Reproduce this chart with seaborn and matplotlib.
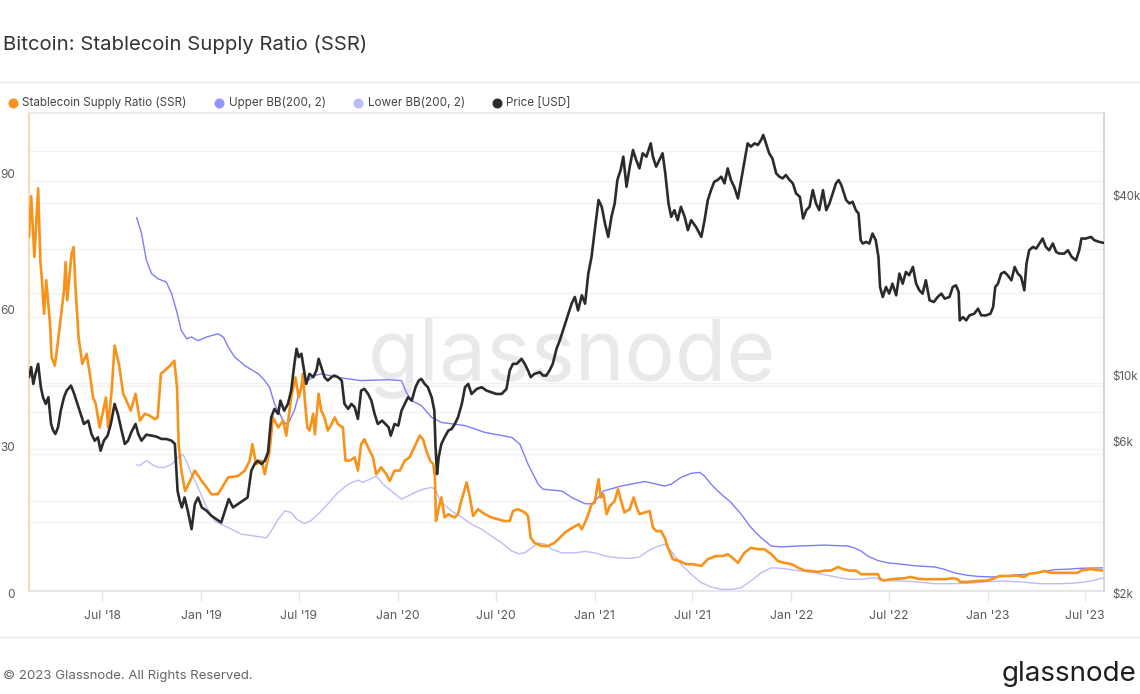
import pandas as pd
import matplotlib
matplotlib.use("Agg")
import matplotlib.pyplot as plt
import matplotlib.dates as mdates
from matplotlib.lines import Line2D
from matplotlib.ticker import NullLocator
from matplotlib.transforms import blended_transform_factory, ScaledTranslation
import seaborn as sns

# ---------------- data ----------------
ssr = [
    ("2018-02-15", 77.7), ("2018-02-19", 86.7), ("2018-02-25", 73.3), ("2018-03-04", 88.4), ("2018-03-08", 72.6),
    ("2018-03-11", 68.2), ("2018-03-15", 60.8), ("2018-03-19", 68.2), ("2018-03-26", 58.6), ("2018-03-29", 51.3),
    ("2018-04-04", 49.4), ("2018-04-10", 54.9), ("2018-04-15", 60.0), ("2018-04-21", 66.0), ("2018-04-24", 72.2),
    ("2018-04-27", 63.8), ("2018-05-05", 74.0), ("2018-05-09", 75.5), ("2018-05-12", 67.4), ("2018-05-18", 55.7),
    ("2018-05-25", 49.8), ("2018-06-02", 52.0), ("2018-06-08", 47.6), ("2018-06-14", 42.4), ("2018-06-19", 41.0),
    ("2018-06-26", 35.8), ("2018-07-03", 39.5), ("2018-07-08", 42.4), ("2018-07-12", 35.8), ("2018-07-19", 44.6),
    ("2018-07-24", 53.8), ("2018-08-01", 49.8), ("2018-08-09", 43.2), ("2018-08-15", 41.7), ("2018-08-23", 39.5),
    ("2018-09-01", 43.2), ("2018-09-09", 37.3), ("2018-09-18", 38.8), ("2018-09-27", 38.4), ("2018-10-07", 37.6),
    ("2018-10-12", 38.0), ("2018-10-18", 47.6), ("2018-10-25", 48.3), ("2018-11-04", 49.4), ("2018-11-12", 50.5),
    ("2018-11-17", 44.6), ("2018-11-20", 32.1), ("2018-11-25", 26.3), ("2018-12-02", 21.8), ("2018-12-11", 24.0),
    ("2018-12-20", 26.3),
    ("2019-01-02", 24.0), ("2019-01-11", 22.6), ("2019-01-20", 21.1), ("2019-02-01", 21.1), ("2019-02-20", 24.8),
    ("2019-03-10", 25.1), ("2019-03-23", 26.3), ("2019-04-01", 28.5), ("2019-04-06", 32.1), ("2019-04-13", 27.7),
    ("2019-04-23", 28.5), ("2019-04-29", 25.5), ("2019-05-08", 30.7), ("2019-05-14", 38.0), ("2019-05-24", 35.8),
    ("2019-06-02", 37.3), ("2019-06-08", 34.0), ("2019-06-17", 42.4), ("2019-06-25", 46.8), ("2019-07-01", 42.4),
    ("2019-07-06", 44.6), ("2019-07-09", 47.6), ("2019-07-12", 42.4), ("2019-07-17", 35.8), ("2019-07-21", 35.1),
    ("2019-07-28", 38.8), ("2019-07-31", 34.3), ("2019-08-07", 43.2), ("2019-08-12", 39.5), ("2019-08-18", 38.0),
    ("2019-08-24", 35.1), ("2019-08-31", 36.5), ("2019-09-06", 38.0), ("2019-09-12", 36.5), ("2019-09-21", 35.8),
    ("2019-09-26", 28.5), ("2019-10-04", 28.5), ("2019-10-13", 29.2), ("2019-10-19", 26.3), ("2019-10-25", 32.1),
    ("2019-10-31", 33.2), ("2019-11-07", 31.4), ("2019-11-16", 29.2), ("2019-11-22", 25.5), ("2019-12-01", 27.0),
    ("2019-12-11", 25.5), ("2019-12-17", 24.0), ("2019-12-26", 26.3),
    ("2020-01-05", 26.3), ("2020-01-14", 28.5), ("2020-01-23", 29.2), ("2020-01-30", 31.0), ("2020-02-11", 34.0),
    ("2020-02-17", 33.2), ("2020-02-23", 30.7), ("2020-03-01", 28.5), ("2020-03-07", 27.7), ("2020-03-10", 24.8),
    ("2020-03-12", 15.2), ("2020-03-16", 17.4), ("2020-03-22", 20.4), ("2020-03-28", 16.0), ("2020-04-04", 16.7),
    ("2020-04-10", 16.3), ("2020-04-16", 16.0), ("2020-04-22", 16.7), ("2020-04-28", 19.6), ("2020-05-08", 23.7),
    ("2020-05-14", 20.4), ("2020-05-20", 16.3), ("2020-05-29", 17.8), ("2020-06-11", 16.7), ("2020-06-23", 16.0),
    ("2020-07-05", 15.6), ("2020-07-17", 15.2), ("2020-07-27", 15.2), ("2020-08-02", 17.4), ("2020-08-11", 17.8),
    ("2020-08-24", 17.1), ("2020-08-30", 16.3), ("2020-09-04", 11.5), ("2020-09-11", 10.4), ("2020-09-24", 9.7),
    ("2020-10-06", 9.7), ("2020-10-18", 10.4), ("2020-10-28", 11.5), ("2020-11-06", 12.6), ("2020-11-16", 13.4),
    ("2020-12-02", 14.5), ("2020-12-08", 13.4), ("2020-12-14", 14.9), ("2020-12-20", 16.7), ("2020-12-26", 18.9),
    ("2021-01-01", 19.3), ("2021-01-08", 24.4), ("2021-01-12", 20.4), ("2021-01-17", 21.1), ("2021-01-23", 16.7),
    ("2021-01-29", 18.5), ("2021-02-07", 19.6), ("2021-02-13", 22.2), ("2021-02-19", 19.6), ("2021-02-25", 17.1),
    ("2021-03-07", 17.8), ("2021-03-14", 20.4), ("2021-03-19", 18.5), ("2021-03-25", 16.7), ("2021-04-04", 17.1),
    ("2021-04-13", 17.4), ("2021-04-19", 13.8), ("2021-04-25", 13.0), ("2021-05-04", 13.0), ("2021-05-11", 11.5),
    ("2021-05-17", 9.3), ("2021-05-26", 6.8), ("2021-06-07", 6.4), ("2021-06-20", 5.7), ("2021-07-02", 5.7),
    ("2021-07-18", 5.3), ("2021-07-30", 6.8), ("2021-08-14", 7.5), ("2021-08-27", 7.5), ("2021-09-05", 7.9),
    ("2021-09-14", 7.1), ("2021-09-24", 6.0), ("2021-10-06", 8.2), ("2021-10-18", 9.3), ("2021-10-31", 9.0),
    ("2021-11-12", 9.0), ("2021-11-25", 7.9), ("2021-12-07", 6.4), ("2021-12-19", 6.0),
    ("2022-01-02", 5.7), ("2022-01-14", 4.9), ("2022-01-26", 4.3), ("2022-02-07", 4.2), ("2022-02-20", 4.0),
    ("2022-03-04", 4.3), ("2022-03-16", 4.3), ("2022-03-29", 5.1), ("2022-04-07", 4.6), ("2022-04-19", 4.3),
    ("2022-05-01", 4.3), ("2022-05-11", 3.5), ("2022-05-23", 3.5), ("2022-06-04", 3.5), ("2022-06-11", 3.5),
    ("2022-06-15", 2.4), ("2022-06-23", 2.1), ("2022-07-05", 2.4), ("2022-07-18", 2.5), ("2022-07-30", 2.6),
    ("2022-08-11", 2.9), ("2022-08-24", 2.5), ("2022-09-05", 2.4), ("2022-09-24", 2.4), ("2022-10-12", 2.4),
    ("2022-10-28", 2.6), ("2022-11-06", 2.4), ("2022-11-11", 1.8), ("2022-11-25", 1.8), ("2022-12-13", 2.0),
    ("2023-01-01", 2.1), ("2023-01-13", 2.6), ("2023-01-23", 3.1), ("2023-02-07", 3.1), ("2023-02-23", 3.2),
    ("2023-03-10", 2.9), ("2023-03-19", 3.6), ("2023-04-04", 3.8), ("2023-04-16", 4.2), ("2023-04-28", 3.8),
    ("2023-05-17", 3.8), ("2023-06-05", 3.8), ("2023-06-17", 3.8), ("2023-06-23", 4.3), ("2023-07-12", 4.6),
    ("2023-08-02", 4.3),
]

upper_bb = [
    ("2018-09-03", 82.0), ("2018-09-12", 78.5), ("2018-09-21", 72.6), ("2018-10-01", 69.6), ("2018-10-13", 68.5),
    ("2018-10-28", 67.8), ("2018-11-07", 65.2), ("2018-11-16", 61.5), ("2018-11-25", 57.1), ("2018-12-05", 55.3),
    ("2018-12-14", 55.7), ("2018-12-26", 54.9), ("2019-01-11", 55.7), ("2019-02-01", 56.4), ("2019-02-11", 55.7),
    ("2019-02-20", 53.5), ("2019-03-04", 51.3), ("2019-03-23", 49.4), ("2019-04-17", 47.6), ("2019-04-29", 46.1),
    ("2019-05-08", 44.6), ("2019-05-17", 41.0), ("2019-05-27", 38.8), ("2019-06-02", 37.3), ("2019-06-08", 36.5),
    ("2019-06-14", 37.3), ("2019-06-23", 39.5), ("2019-07-01", 43.0), ("2019-07-06", 45.0), ("2019-07-18", 46.1),
    ("2019-07-31", 47.2), ("2019-08-12", 47.6), ("2019-09-12", 46.8), ("2019-10-25", 46.1), ("2019-12-14", 46.3),
    ("2020-01-08", 46.1), ("2020-01-17", 43.5), ("2020-01-27", 41.7), ("2020-02-14", 40.6), ("2020-03-04", 38.0),
    ("2020-03-22", 36.9), ("2020-05-05", 36.2), ("2020-06-11", 34.7), ("2020-07-31", 33.6), ("2020-08-15", 32.1),
    ("2020-08-30", 27.7), ("2020-09-18", 23.3), ("2020-09-27", 22.2), ("2020-11-01", 21.8), ("2020-11-19", 20.4),
    ("2020-12-14", 19.0), ("2020-12-26", 19.0), ("2021-01-08", 20.4), ("2021-01-17", 21.8), ("2021-02-19", 22.9),
    ("2021-04-04", 23.9), ("2021-05-11", 22.9), ("2021-05-23", 23.3), ("2021-06-10", 24.8), ("2021-06-29", 25.7),
    ("2021-07-15", 25.9), ("2021-07-24", 25.1), ("2021-08-05", 23.3), ("2021-08-24", 21.1), ("2021-09-11", 19.3),
    ("2021-09-30", 16.7), ("2021-10-18", 13.8), ("2021-11-06", 11.5), ("2021-11-25", 9.7), ("2021-12-13", 9.5),
    ("2022-01-14", 9.7), ("2022-03-04", 9.9), ("2022-04-16", 9.7), ("2022-04-28", 9.3), ("2022-05-11", 8.6),
    ("2022-05-23", 7.5), ("2022-06-11", 6.5), ("2022-06-29", 6.0), ("2022-07-24", 5.7), ("2022-08-24", 5.3),
    ("2022-09-24", 5.1), ("2022-10-12", 4.6), ("2022-10-31", 3.8), ("2022-11-22", 3.3), ("2022-12-14", 3.0),
    ("2023-01-07", 2.9), ("2023-01-26", 3.0), ("2023-02-20", 3.3), ("2023-03-16", 3.5), ("2023-04-10", 4.0),
    ("2023-05-05", 4.5), ("2023-05-30", 4.6), ("2023-06-23", 4.8), ("2023-08-02", 4.9),
]

lower_bb = [
    ("2018-09-03", 27.6), ("2018-09-09", 27.4), ("2018-09-21", 28.5), ("2018-10-01", 27.7), ("2018-10-13", 27.0),
    ("2018-10-25", 27.0), ("2018-11-07", 27.7), ("2018-11-19", 29.2), ("2018-11-28", 29.9), ("2018-12-07", 27.7),
    ("2018-12-14", 25.5), ("2018-12-26", 22.6), ("2019-01-11", 18.2), ("2019-01-26", 15.2), ("2019-02-07", 14.5),
    ("2019-02-26", 13.4), ("2019-03-17", 12.3), ("2019-04-10", 11.9), ("2019-05-02", 11.5), ("2019-05-11", 13.0),
    ("2019-05-24", 15.6), ("2019-06-05", 17.4), ("2019-06-17", 17.1), ("2019-06-27", 15.6), ("2019-07-12", 14.6),
    ("2019-07-25", 15.4), ("2019-08-06", 16.7), ("2019-08-24", 18.9), ("2019-09-12", 21.5), ("2019-10-01", 23.3),
    ("2019-10-19", 24.2), ("2019-10-28", 23.7), ("2019-11-10", 24.4), ("2019-11-22", 25.1), ("2019-12-05", 23.3),
    ("2019-12-20", 21.8), ("2020-01-08", 20.0), ("2020-01-20", 20.7), ("2020-02-02", 21.5), ("2020-02-17", 22.2),
    ("2020-03-04", 22.6), ("2020-03-10", 22.2), ("2020-03-22", 19.3), ("2020-04-10", 17.4), ("2020-04-29", 16.0),
    ("2020-05-17", 14.5), ("2020-06-05", 13.4), ("2020-06-23", 11.9), ("2020-07-12", 10.4), ("2020-07-31", 8.6),
    ("2020-08-12", 8.0), ("2020-08-24", 8.2), ("2020-09-06", 9.3), ("2020-09-18", 10.4), ("2020-10-01", 10.1),
    ("2020-10-13", 9.0), ("2020-11-01", 8.2), ("2020-11-25", 8.2), ("2020-12-14", 8.5), ("2021-01-01", 8.2),
    ("2021-01-20", 7.5), ("2021-02-13", 7.1), ("2021-03-10", 7.0), ("2021-03-25", 7.3), ("2021-04-10", 8.6),
    ("2021-04-25", 9.5), ("2021-05-11", 10.1), ("2021-05-23", 8.6), ("2021-06-10", 5.7), ("2021-06-29", 3.5),
    ("2021-07-18", 1.6), ("2021-08-05", 0.7), ("2021-08-24", 0.15), ("2021-09-11", 0.15), ("2021-09-30", 0.5),
    ("2021-10-18", 2.0), ("2021-11-06", 3.8), ("2021-11-25", 4.9), ("2021-12-13", 4.8), ("2022-01-14", 4.3),
    ("2022-02-13", 3.8), ("2022-03-16", 3.1), ("2022-04-16", 2.4), ("2022-05-11", 2.4), ("2022-06-04", 2.7),
    ("2022-06-29", 2.1), ("2022-07-24", 2.0), ("2022-08-24", 1.8), ("2022-09-24", 1.4), ("2022-10-25", 1.4),
    ("2022-11-25", 1.5), ("2022-12-26", 1.8), ("2023-01-26", 2.0), ("2023-03-04", 1.8), ("2023-04-10", 1.4),
    ("2023-05-17", 1.4), ("2023-06-17", 1.6), ("2023-07-12", 2.0), ("2023-08-04", 2.7),
]

price_usd = [
    ("2018-02-15", 10440), ("2018-02-19", 11280), ("2018-02-23", 9910), ("2018-02-27", 10710), ("2018-03-04", 11570),
    ("2018-03-09", 9660), ("2018-03-13", 8940), ("2018-03-18", 8490), ("2018-03-23", 8940), ("2018-03-28", 7270),
    ("2018-04-01", 6910), ("2018-04-05", 6730), ("2018-04-10", 7090), ("2018-04-15", 8060), ("2018-04-21", 8940),
    ("2018-04-26", 9410), ("2018-05-04", 9780), ("2018-05-10", 9170), ("2018-05-16", 8490), ("2018-05-22", 7860),
    ("2018-05-28", 7270), ("2018-06-05", 7460), ("2018-06-11", 6730), ("2018-06-17", 6390), ("2018-06-23", 6560),
    ("2018-06-28", 5915), ("2018-07-04", 6390), ("2018-07-11", 6645), ("2018-07-17", 7270), ("2018-07-24", 8490),
    ("2018-07-30", 7860), ("2018-08-06", 6910), ("2018-08-12", 6230), ("2018-08-18", 6390), ("2018-08-24", 6820),
    ("2018-09-01", 7270), ("2018-09-06", 6730), ("2018-09-12", 6390), ("2018-09-21", 6695), ("2018-10-01", 6645),
    ("2018-10-10", 6590), ("2018-10-19", 6475), ("2018-10-28", 6475), ("2018-11-07", 6390), ("2018-11-13", 6230),
    ("2018-11-18", 4340), ("2018-11-22", 4015), ("2018-11-26", 3815), ("2018-12-01", 4120), ("2018-12-07", 3717),
    ("2018-12-14", 3225), ("2018-12-20", 3913), ("2018-12-26", 4120),
    ("2019-01-02", 3815), ("2019-01-11", 3717), ("2019-01-20", 3575), ("2019-01-29", 3485), ("2019-02-07", 3395),
    ("2019-02-14", 3717), ("2019-02-21", 4068), ("2019-03-01", 3815), ("2019-03-10", 3913), ("2019-03-19", 4015),
    ("2019-03-28", 4120), ("2019-04-04", 5066), ("2019-04-10", 5335), ("2019-04-16", 5475), ("2019-04-23", 5335),
    ("2019-04-29", 5475), ("2019-05-05", 5840), ("2019-05-11", 7660), ("2019-05-17", 8170), ("2019-05-24", 7860),
    ("2019-05-28", 8710), ("2019-06-04", 8060), ("2019-06-11", 8490), ("2019-06-17", 9410), ("2019-06-23", 11570),
    ("2019-06-27", 13000), ("2019-07-01", 12190), ("2019-07-06", 12510), ("2019-07-09", 11570), ("2019-07-15", 9910),
    ("2019-07-21", 10710), ("2019-07-28", 10440), ("2019-08-03", 10990), ("2019-08-07", 12030), ("2019-08-12", 11280),
    ("2019-08-18", 10440), ("2019-08-24", 10170), ("2019-08-31", 10440), ("2019-09-05", 10570), ("2019-09-12", 10440),
    ("2019-09-19", 10170), ("2019-09-24", 8490), ("2019-10-01", 8170), ("2019-10-07", 8490), ("2019-10-13", 8275),
    ("2019-10-19", 7560), ("2019-10-25", 9410), ("2019-10-31", 9535), ("2019-11-07", 9170), ("2019-11-13", 8710),
    ("2019-11-19", 7860), ("2019-11-25", 7270), ("2019-12-03", 7460), ("2019-12-09", 7270), ("2019-12-15", 7090),
    ("2019-12-19", 6645), ("2019-12-26", 7270),
    ("2020-01-02", 7180), ("2020-01-08", 8060), ("2020-01-14", 8490), ("2020-01-20", 8940), ("2020-01-27", 8710),
    ("2020-02-03", 9660), ("2020-02-09", 10170), ("2020-02-14", 10300), ("2020-02-20", 9910), ("2020-02-26", 9660),
    ("2020-03-04", 8940), ("2020-03-09", 8060), ("2020-03-11", 6230), ("2020-03-14", 4935), ("2020-03-17", 5615),
    ("2020-03-22", 6230), ("2020-03-28", 6560), ("2020-04-04", 6910), ("2020-04-10", 6995), ("2020-04-16", 7270),
    ("2020-04-22", 7660), ("2020-04-29", 8490), ("2020-05-05", 9660), ("2020-05-11", 9910), ("2020-05-17", 9170),
    ("2020-05-27", 9535), ("2020-06-05", 9660), ("2020-06-14", 9410), ("2020-06-23", 9290), ("2020-07-02", 9170),
    ("2020-07-12", 9170), ("2020-07-21", 9535), ("2020-07-27", 10990), ("2020-08-02", 11570), ("2020-08-09", 11570),
    ("2020-08-18", 12030), ("2020-08-24", 11570), ("2020-08-30", 10990), ("2020-09-04", 10440), ("2020-09-11", 10710),
    ("2020-09-21", 10850), ("2020-09-27", 10570), ("2020-10-03", 10570), ("2020-10-09", 10990), ("2020-10-15", 11570),
    ("2020-10-22", 13000), ("2020-10-28", 13870), ("2020-11-03", 14980), ("2020-11-09", 16190), ("2020-11-15", 17490),
    ("2020-11-19", 18420), ("2020-11-25", 19400), ("2020-12-01", 17490), ("2020-12-08", 19650), ("2020-12-14", 18420),
    ("2020-12-20", 23240), ("2020-12-26", 26440),
    ("2021-01-01", 32510), ("2021-01-08", 41030), ("2021-01-14", 38940), ("2021-01-20", 34220), ("2021-01-26", 30860),
    ("2021-02-01", 36040), ("2021-02-07", 39960), ("2021-02-12", 47880), ("2021-02-18", 51740), ("2021-02-23", 57370),
    ("2021-03-01", 45470), ("2021-03-07", 53090), ("2021-03-13", 60390), ("2021-03-19", 55890), ("2021-03-25", 52410),
    ("2021-03-31", 58860), ("2021-04-07", 57370), ("2021-04-15", 63600), ("2021-04-19", 57370), ("2021-04-25", 53090),
    ("2021-05-01", 55890), ("2021-05-07", 58860), ("2021-05-12", 50430), ("2021-05-18", 39960), ("2021-05-23", 36040),
    ("2021-05-29", 37950), ("2021-06-04", 35120), ("2021-06-10", 38940), ("2021-06-17", 36040), ("2021-06-23", 32510),
    ("2021-06-29", 35120), ("2021-07-08", 33360), ("2021-07-18", 30860), ("2021-07-24", 35120), ("2021-07-30", 41030),
    ("2021-08-05", 44310), ("2021-08-11", 47270), ("2021-08-17", 47880), ("2021-08-24", 49140), ("2021-08-30", 46670),
    ("2021-09-05", 52410), ("2021-09-11", 47880), ("2021-09-17", 45470), ("2021-09-24", 41550), ("2021-09-30", 47880),
    ("2021-10-06", 55170), ("2021-10-12", 63600), ("2021-10-18", 61970), ("2021-10-25", 63600), ("2021-10-31", 62800),
    ("2021-11-06", 65280), ("2021-11-10", 67860), ("2021-11-15", 63600), ("2021-11-21", 58860), ("2021-11-27", 56630),
    ("2021-12-04", 50430), ("2021-12-10", 49140), ("2021-12-16", 48510), ("2021-12-22", 49780), ("2021-12-29", 47880),
    ("2022-01-04", 46670), ("2022-01-10", 43180), ("2022-01-17", 42070), ("2022-01-23", 35580), ("2022-01-29", 37950),
    ("2022-02-04", 38940), ("2022-02-10", 44310), ("2022-02-16", 39960), ("2022-02-22", 37950), ("2022-03-01", 44310),
    ("2022-03-07", 37950), ("2022-03-13", 39960), ("2022-03-19", 43180), ("2022-03-25", 46670), ("2022-03-30", 47880),
    ("2022-04-04", 46070), ("2022-04-13", 41030), ("2022-04-19", 39960), ("2022-04-25", 40480), ("2022-05-01", 37950),
    ("2022-05-06", 36980), ("2022-05-10", 30080), ("2022-05-14", 29320), ("2022-05-20", 29700), ("2022-05-26", 29320),
    ("2022-06-01", 31670), ("2022-06-07", 30080), ("2022-06-12", 26440), ("2022-06-15", 20960), ("2022-06-20", 19400),
    ("2022-06-26", 20960), ("2022-07-02", 19910), ("2022-07-08", 21500), ("2022-07-15", 19650), ("2022-07-21", 23240),
    ("2022-07-27", 21500), ("2022-08-02", 23540), ("2022-08-08", 22940), ("2022-08-15", 24470), ("2022-08-21", 21500),
    ("2022-08-27", 20420), ("2022-09-02", 19910), ("2022-09-08", 22070), ("2022-09-15", 18900), ("2022-09-23", 18660),
    ("2022-09-30", 19400), ("2022-10-07", 19910), ("2022-10-13", 19150), ("2022-10-22", 19400), ("2022-10-28", 20960),
    ("2022-11-03", 21230), ("2022-11-08", 20160), ("2022-11-10", 16190), ("2022-11-16", 16610), ("2022-11-22", 16190),
    ("2022-11-28", 16830), ("2022-12-07", 17050), ("2022-12-14", 17720), ("2022-12-20", 16830), ("2022-12-29", 16830),
    ("2023-01-06", 17050), ("2023-01-11", 17950), ("2023-01-15", 20960), ("2023-01-20", 21500), ("2023-01-26", 23240),
    ("2023-02-01", 23540), ("2023-02-07", 22940), ("2023-02-14", 22070), ("2023-02-20", 24470), ("2023-02-26", 23240),
    ("2023-03-04", 22650), ("2023-03-10", 20420), ("2023-03-14", 25110), ("2023-03-19", 27830), ("2023-03-26", 28570),
    ("2023-04-01", 28200), ("2023-04-07", 29320), ("2023-04-13", 30470), ("2023-04-19", 28570), ("2023-04-25", 27830),
    ("2023-05-02", 29320), ("2023-05-08", 27480), ("2023-05-14", 27130), ("2023-05-23", 27130), ("2023-05-30", 27830),
    ("2023-06-06", 26440), ("2023-06-14", 25760), ("2023-06-20", 27830), ("2023-06-24", 30470), ("2023-07-02", 30470),
    ("2023-07-12", 30860), ("2023-07-18", 30080), ("2023-07-27", 29700), ("2023-08-04", 29470),
]

series_names = ["Stablecoin Supply Ratio (SSR)", "Upper BB(200, 2)", "Lower BB(200, 2)", "Price [USD]"]
left_ticks = [0, 30, 60, 90]
left_grid = [0, 15, 30, 45, 60, 75, 90]
right_ticks = [2000, 6000, 10000, 40000]
right_tick_labels = ["$2k", "$6k", "$10k", "$40k"]
right_grid = [4000, 6000, 8000, 10000, 20000, 40000, 60000]

# ---------------- style ----------------
C_SSR = "#f7931a"
C_UP = "#7d7dfb"
C_LO = "#bcbcfb"
C_PX = "#2b2b2b"
C_TXT = "#5a5a5a"
C_GRID = "#f1f1f1"

sns.set_theme(style="white")
plt.rcParams["font.family"] = ["Inter", "DejaVu Sans"]

W, H = 1140, 694
fig = plt.figure(figsize=(W / 100, H / 100), dpi=100)


def fx(px):
    return px / W


def fy(py):
    return 1 - py / H


L, R, T, B = 29, 1104, 113, 591
ax = fig.add_axes([fx(L), fy(B), fx(R) - fx(L), fy(T) - fy(B)])
ax.patch.set_alpha(0)
ax2 = ax.twinx()


def to_df(pairs):
    d = pd.DataFrame(pairs, columns=["date", "value"])
    d["date"] = pd.to_datetime(d["date"])
    return d


d_ssr, d_up, d_lo, d_px = to_df(ssr), to_df(upper_bb), to_df(lower_bb), to_df(price_usd)

ax2.set_yscale("log")

# watermark (behind lines)
ax.text(fx(368), fy(380), "glassnode", transform=fig.transFigure, fontsize=60.5,
        color="#e9e9e9", ha="left", va="baseline", zorder=0.1)

# grid lines (left scale and right scale), drawn under the lines
for v in left_grid:
    ax.axhline(v, color=C_GRID, lw=1.0, zorder=0.3)
tr_right = blended_transform_factory(ax.transAxes, ax2.transData)
for v in right_grid:
    ax.plot([0, 1], [v, v], transform=tr_right, color=C_GRID, lw=1.0, zorder=0.3)

sns.lineplot(data=d_lo, x="date", y="value", ax=ax, color=C_LO, linewidth=1.0,
             estimator=None, errorbar=None, zorder=2)
sns.lineplot(data=d_up, x="date", y="value", ax=ax, color=C_UP, linewidth=1.0,
             estimator=None, errorbar=None, zorder=2)
sns.lineplot(data=d_ssr, x="date", y="value", ax=ax, color=C_SSR, linewidth=1.9,
             estimator=None, errorbar=None, zorder=3)
sns.lineplot(data=d_px, x="date", y="value", ax=ax2, color=C_PX, linewidth=1.9,
             estimator=None, errorbar=None, zorder=3)

ax2.set_ylim(2000, 80400)
ax.set_ylim(-0.2, 105)
ax.set_xlim(pd.Timestamp("2018-02-15"), pd.Timestamp("2023-08-05"))

for a in (ax, ax2):
    a.set_xlabel("")
    a.set_ylabel("")
    a.grid(False)

# x axis
ax.xaxis.set_major_locator(mdates.MonthLocator(bymonth=[1, 7]))
ax.xaxis.set_major_formatter(mdates.DateFormatter("%b '%y"))
ax.tick_params(axis="x", bottom=True, length=7, width=1, color="#e6e6e6",
               labelsize=8.8, labelcolor=C_TXT, pad=7)
ax.tick_params(axis="y", left=False, labelleft=False)
ax.set_yticks([])
ax2.tick_params(axis="y", which="both", right=False, labelright=False)
ax2.yaxis.set_minor_locator(NullLocator())
ax2.set_yticks([])

# spines
for s in ax.spines.values():
    s.set_visible(True)
ax.spines["left"].set_color("#fcd8b0")
ax.spines["left"].set_linewidth(1.5)
ax.spines["top"].set_color("#e8e8e8")
ax.spines["bottom"].set_color("#e4e4e4")
ax.spines["right"].set_visible(False)
for k in ("left", "top", "bottom"):
    ax2.spines[k].set_visible(False)
ax2.spines["right"].set_color("#cfcfcf")
ax2.spines["right"].set_linewidth(1.2)

# y tick labels (left: SSR, right: price), kept inside the canvas
tr_left_lab = blended_transform_factory(ax.transAxes, ax.transData)
for v in left_ticks:
    dy = -5 if v == 0 else 6
    off = ScaledTranslation(-14 / 100, dy / 100, fig.dpi_scale_trans)
    ax.text(0, v, str(v), transform=tr_left_lab + off, ha="right", va="center",
            fontsize=8.5, color=C_TXT)
tr_right_lab = blended_transform_factory(ax2.transAxes, ax2.transData)
for v, lab in zip(right_ticks, right_tick_labels):
    dy = -4 if v == 2000 else 6
    off = ScaledTranslation(8 / 100, dy / 100, fig.dpi_scale_trans)
    ax2.text(1, v, lab, transform=tr_right_lab + off, ha="left", va="center",
             fontsize=8.3, color=C_TXT)

# header / footer
fig.text(fx(3), fy(45), "Bitcoin: Stablecoin Supply Ratio (SSR)", ha="left", va="center",
         fontsize=14.6, color="#333333")
fig.add_artist(Line2D([0, 1], [fy(82), fy(82)], transform=fig.transFigure, color="#e6e6e6", lw=1))
fig.add_artist(Line2D([0, 1], [fy(637), fy(637)], transform=fig.transFigure, color="#e6e6e6", lw=1))

legend_pos = [(12.7, 22), (219, 229), (358, 368), (497, 506)]
legend_cols = [C_SSR, "#9494ff", C_LO, C_PX]
for (dot_x, txt_x), name, col in zip(legend_pos, series_names, legend_cols):
    fig.add_artist(Line2D([fx(dot_x)], [fy(103)], transform=fig.transFigure, marker="o",
                          markersize=6.2, color=col, linestyle="none"))
    fig.text(fx(txt_x), fy(103), name, ha="left", va="center", fontsize=8.4, color="#444444")

fig.text(fx(3), fy(676), "\u00a9 2023 Glassnode. All Rights Reserved.", ha="left", va="center",
         fontsize=9.5, color="#666666")
fig.text(fx(1136), fy(674), "glassnode", ha="right", va="center", fontsize=20, color="#1e1e1e")

fig.savefig("out.png", dpi=100)
